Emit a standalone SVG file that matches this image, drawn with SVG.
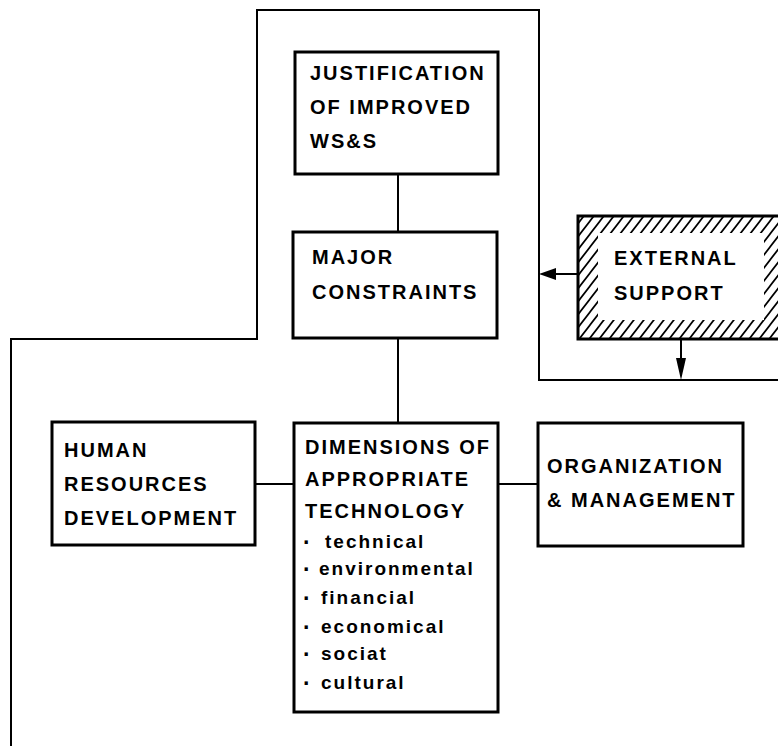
<svg xmlns="http://www.w3.org/2000/svg" width="778" height="747" viewBox="0 0 778 747">
<style>
.box{fill:#fff;stroke:#000;stroke-width:3}
.ln{fill:none;stroke:#000;stroke-width:2}
.t{font-family:"Liberation Sans",Arial,sans-serif;font-weight:bold;font-size:20px;letter-spacing:2px;fill:#000}
.s{font-family:"Liberation Sans",Arial,sans-serif;font-weight:bold;font-size:19px;letter-spacing:2px;fill:#000}
.b{font-size:23px}
</style>
<defs>
<pattern id="hatch" patternUnits="userSpaceOnUse" width="10" height="13">
<path d="M0,13 L10,0 M-1,1.3 L1,-1.3 M9,14.3 L11,11.7" stroke="#000" stroke-width="1.7" fill="none"/>
</pattern>
</defs>
<rect width="778" height="747" fill="#fff"/>
<g id="connectors">
<path class="ln" d="M11 746 V339 H257 V10 H539 V380 H778"/>
<line class="ln" x1="398" y1="174" x2="398" y2="232"/>
<line class="ln" x1="398" y1="338" x2="398" y2="423"/>
<line class="ln" x1="255" y1="484" x2="294" y2="484"/>
<line class="ln" x1="498" y1="484" x2="538" y2="484"/>
<line class="ln" x1="578" y1="274" x2="552" y2="274"/>
<polygon points="539,274 556,268 556,280" fill="#000"/>
<line class="ln" x1="681" y1="339" x2="681" y2="360"/>
<polygon points="681,380 676,358 686,358" fill="#000"/>
</g>
<g id="justification">
<rect class="box" x="295" y="52" width="203" height="122"/>
<text class="t" x="310" y="80">JUSTIFICATION</text>
<text class="t" x="310" y="114">OF IMPROVED</text>
<text class="t" x="310" y="148">WS&amp;S</text>
</g>
<g id="constraints">
<rect class="box" x="293" y="232" width="204" height="106"/>
<text class="t" x="312" y="264">MAJOR</text>
<text class="t" x="312" y="299">CONSTRAINTS</text>
</g>
<g id="external">
<rect x="578" y="216" width="210" height="123" fill="url(#hatch)" stroke="#000" stroke-width="3"/>
<rect x="598" y="233" width="166" height="87" fill="#fff"/>
<text class="t" x="614" y="265">EXTERNAL</text>
<text class="t" x="614" y="300">SUPPORT</text>
</g>
<g id="human">
<rect class="box" x="52" y="422" width="203" height="123"/>
<text class="t" x="64" y="457">HUMAN</text>
<text class="t" x="64" y="491">RESOURCES</text>
<text class="t" x="64" y="525">DEVELOPMENT</text>
</g>
<g id="dimensions">
<rect class="box" x="294" y="423" width="204" height="289"/>
<text class="t" x="305" y="454" letter-spacing="1.4">DIMENSIONS OF</text>
<text class="t" x="305" y="486">APPROPRIATE</text>
<text class="t" x="305" y="518">TECHNOLOGY</text>
<text class="s" y="548"><tspan class="b" x="303" dy="2">·</tspan><tspan x="325" dy="-2">technical</tspan></text>
<text class="s" y="575"><tspan class="b" x="303" dy="2">·</tspan><tspan x="319" dy="-2">environmental</tspan></text>
<text class="s" y="604"><tspan class="b" x="303" dy="2">·</tspan><tspan x="321" dy="-2">financial</tspan></text>
<text class="s" y="633"><tspan class="b" x="303" dy="2">·</tspan><tspan x="321" dy="-2">economical</tspan></text>
<text class="s" y="660"><tspan class="b" x="303" dy="2">·</tspan><tspan x="321" dy="-2">sociat</tspan></text>
<text class="s" y="689"><tspan class="b" x="303" dy="2">·</tspan><tspan x="321" dy="-2">cultural</tspan></text>
</g>
<g id="organization">
<rect class="box" x="538" y="423" width="205" height="123"/>
<text class="t" x="547" y="473" letter-spacing="1.6">ORGANIZATION</text>
<text class="t" x="547" y="507" letter-spacing="1.8">&amp; MANAGEMENT</text>
</g>
</svg>
